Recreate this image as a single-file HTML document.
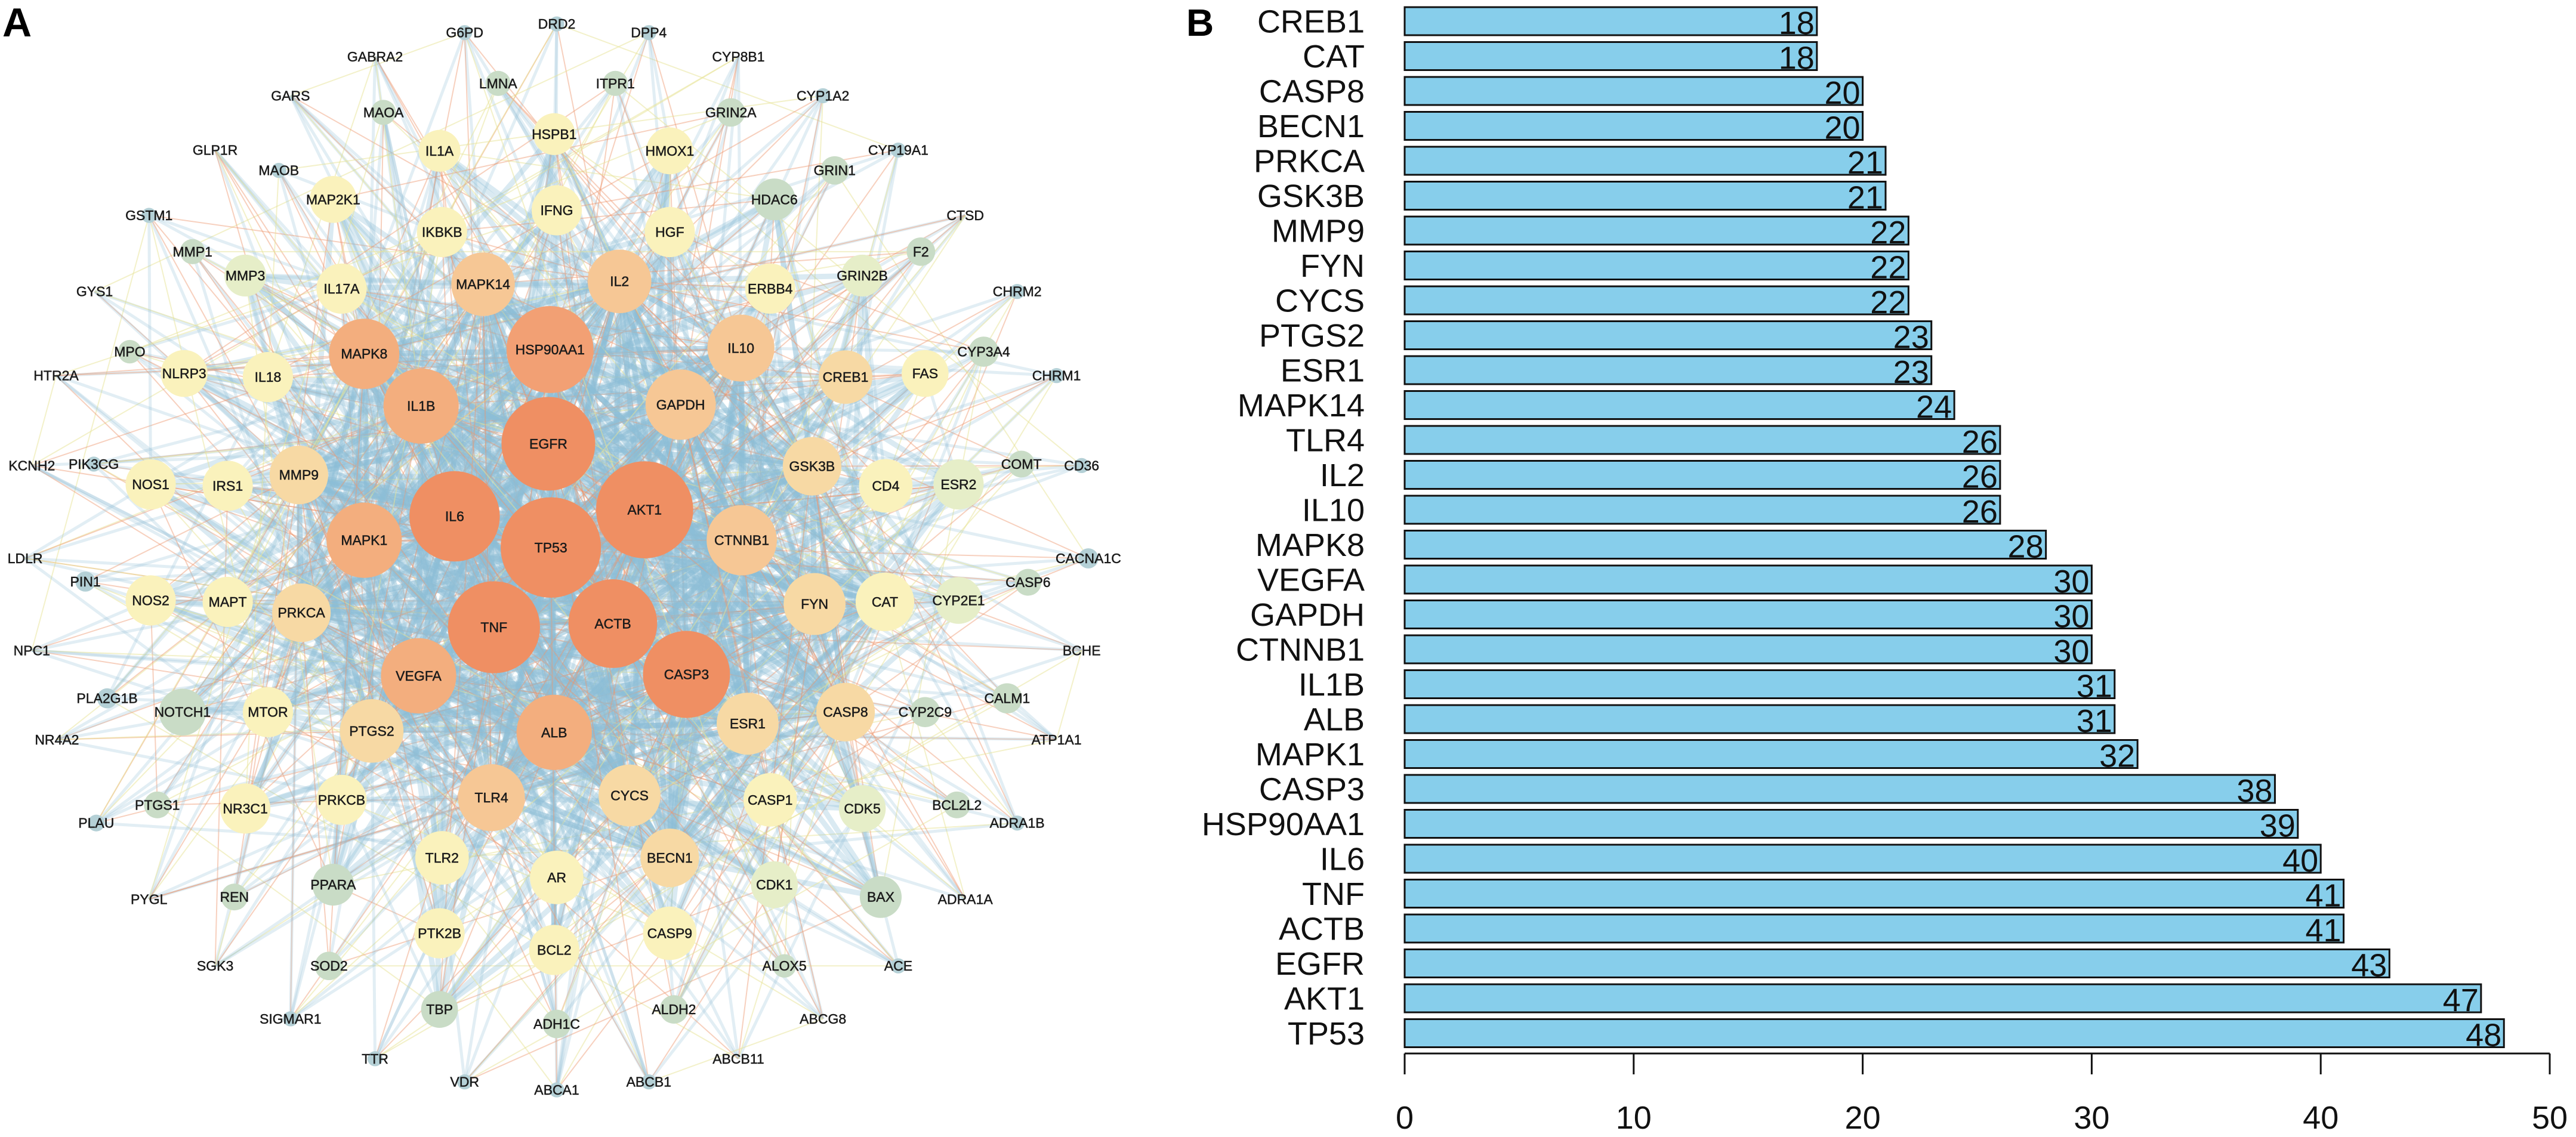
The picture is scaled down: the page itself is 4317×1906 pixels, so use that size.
<!DOCTYPE html>
<html><head><meta charset="utf-8"><title>Network and degree bar chart</title>
<style>
html,body{margin:0;padding:0;background:#fff;}
svg{display:block;font-family:"Liberation Sans",Arial,sans-serif;}
</style></head>
<body>
<svg id="fig" width="4317" height="1906" viewBox="0 0 4317 1906" xmlns="http://www.w3.org/2000/svg">
  <rect x="0" y="0" width="4317" height="1906" fill="#fff"/>
  <text x="4" y="61" font-size="68" font-weight="bold" fill="#000">A</text>
  <text x="1988" y="60" font-size="64" font-weight="bold" fill="#000">B</text>
  <g id="edges"></g>
  <g id="nodes"></g>
  <g id="bars"></g>
</svg>
<script>
// ---------- Bar chart data ----------
const categories = ["CREB1","CAT","CASP8","BECN1","PRKCA","GSK3B","MMP9","FYN","CYCS","PTGS2","ESR1","MAPK14","TLR4","IL2","IL10","MAPK8","VEGFA","GAPDH","CTNNB1","IL1B","ALB","MAPK1","CASP3","HSP90AA1","IL6","TNF","ACTB","EGFR","AKT1","TP53"];
const values = [18,18,20,20,21,21,22,22,22,23,23,24,26,26,26,28,30,30,30,31,31,32,38,39,40,41,41,43,47,48];
const tickValues = [0,10,20,30,40,50];
const tickLabels = ["0","10","20","30","40","50"];

// ---------- Network node data ----------
const nodeNames = ["G6PD","DRD2","DPP4","GABRA2","CYP8B1","GARS","MAOA","LMNA","ITPR1","GRIN2A","CYP1A2","GLP1R","MAOB","IL1A","HSPB1","HMOX1","CYP19A1","GRIN1","GSTM1","MAP2K1","IFNG","HDAC6","CTSD","IKBKB","HGF","MMP1","F2","GYS1","MMP3","IL17A","MAPK14","IL2","ERBB4","GRIN2B","CHRM2","MPO","HTR2A","NLRP3","IL18","MAPK8","HSP90AA1","IL10","CREB1","FAS","CYP3A4","CHRM1","IL1B","GAPDH","EGFR","KCNH2","PIK3CG","NOS1","IRS1","MMP9","GSK3B","CD4","ESR2","COMT","CD36","IL6","AKT1","TP53","MAPK1","CTNNB1","LDLR","CACNA1C","PIN1","NOS2","MAPT","PRKCA","FYN","CAT","CYP2E1","CASP6","TNF","ACTB","NPC1","BCHE","VEGFA","CASP3","PLA2G1B","NOTCH1","MTOR","CALM1","NR4A2","PTGS2","ALB","ESR1","CASP8","CYP2C9","ATP1A1","PTGS1","PLAU","NR3C1","PRKCB","TLR4","CYCS","CASP1","CDK5","BCL2L2","ADRA1B","TLR2","AR","BECN1","PYGL","REN","PPARA","CDK1","BAX","ADRA1A","PTK2B","BCL2","CASP9","SGK3","SOD2","ALOX5","ACE","TBP","ADH1C","ALDH2","SIGMAR1","ABCG8","TTR","ABCB11","VDR","ABCA1","ABCB1"];
const nodeX = [555,665,775,448,882,347,458,595,735,873,983,257,333,525,662,800,1073,997,178,398,665,925,1153,528,800,230,1100,113,293,408,577,740,920,1030,1215,155,67,220,320,435,657,885,1010,1105,1175,1262,503,813,655,38,112,180,272,357,970,1058,1145,1220,1292,543,770,658,435,886,30,1300,102,180,272,360,973,1057,1145,1228,590,732,38,1292,500,820,128,218,320,1203,68,444,662,893,1010,1105,1262,188,115,293,408,587,752,920,1030,1143,1215,528,665,800,178,280,398,925,1052,1153,525,662,800,257,393,937,1073,525,665,805,347,983,448,882,555,665,775];
const nodeY = [45,33,45,78,78,132,155,115,115,155,132,207,235,208,185,208,207,235,297,275,290,275,297,320,320,347,347,402,380,398,392,388,398,380,402,485,518,515,520,488,482,480,520,515,485,518,560,558,612,642,640,668,670,655,643,670,668,640,642,712,703,755,745,745,770,770,802,828,830,845,833,830,828,803,865,860,897,897,932,930,963,982,982,963,1020,1008,1010,998,982,982,1020,1110,1135,1115,1103,1100,1097,1103,1115,1110,1135,1183,1210,1183,1240,1237,1220,1220,1237,1240,1287,1310,1287,1332,1332,1332,1332,1392,1412,1392,1405,1405,1460,1460,1492,1503,1492];
const nodeR = [9,9,9,0,0,0,15,15,15,17,9,0,9,25,25,28,9,17,9,28,30,25,0,30,30,15,17,0,25,30,38,38,30,25,9,14,0,28,30,42,52,40,32,28,18,9,45,42,56,0,9,30,30,35,35,32,30,16,9,54,58,60,45,42,0,12,12,30,30,35,37,35,28,16,55,53,0,0,45,52,12,28,30,18,0,38,45,37,35,18,0,16,10,30,30,40,37,32,28,16,9,32,32,35,0,16,25,28,25,0,30,30,32,0,17,14,9,22,17,17,9,0,9,0,9,9,9];
const nodeCls = ["sm","sm","sm","sm","sm","sm","gr","gr","gr","gr","sm","sm","sm","ye","ye","ye","sm","gr","sm","ye","ye","gr","sm","ye","ye","gr","gr","sm","yg","ye","lo","lo","ye","yg","sm","gr","sm","ye","ye","or","hb","lo","yo","ye","gr","sm","or","lo","bg","sm","sm","ye","ye","yo","yo","ye","yg","gr","sm","bg","bg","bg","or","lo","sm","sm","sm","ye","ye","yo","yo","ye","yg","gr","bg","bg","sm","sm","or","bg","sm","gr","ye","gr","sm","yo","or","yo","yo","gr","sm","gr","sm","ye","ye","lo","yo","ye","yg","gr","sm","ye","ye","yo","sm","gr","gr","yg","gr","sm","ye","ye","ye","sm","gr","gr","sm","gr","gr","gr","sm","sm","sm","sm","sm","sm","sm"];

const NS = "http://www.w3.org/2000/svg";
const SX = 1.403, SY = 1.2156;
const colorMap = {bg:"#EF8F63",hb:"#F2A074",or:"#F3AE7E",lo:"#F6C795",yo:"#F7D9A4",ye:"#FAF2BC",yg:"#E6EEC8",gr:"#C9DCC6",sm:"#B4D0D6"};
function mk(tag, attrs){const e=document.createElementNS(NS,tag);for(const k in attrs)e.setAttribute(k,attrs[k]);return e;}

// ---------- Network ----------
const edgesG = document.getElementById("edges");
const nodesG = document.getElementById("nodes");
const N = nodeNames.length;
const px = i => nodeX[i]*SX, py = i => nodeY[i]*SY;
const hubs = [];
for (let i=0;i<N;i++) if (nodeR[i]>=35) hubs.push(i);
function addEdge(a,b,kind){
  const stroke = kind==="blue" ? "rgba(140,190,216,0.32)" : kind==="lblue" ? "rgba(150,195,215,0.28)" : kind==="orange" ? "rgba(238,150,110,0.45)" : "rgba(232,228,150,0.5)";
  const w = kind==="blue" ? 9 : kind==="lblue" ? 5 : 2;
  const l = mk("line",{x1:px(a),y1:py(a),x2:px(b),y2:py(b),stroke:stroke,"stroke-width":w});
  
  
  edgesG.appendChild(l);
}
for (let i=0;i<N;i++){
  const outer = nodeR[i] < 20;
  const isHub = nodeR[i] >= 35;
  for (let k=0;k<hubs.length;k++){
    const h = hubs[k];
    if (h===i) continue;
    if (outer) {
      if ((i+k)%8===0) addEdge(i,h,"lblue");
      else if ((i*5+k)%13===0) addEdge(i,h,"orange");
    } else if (isHub) {
      if ((i+h)%2===0) addEdge(i,h,"blue");
      else if ((i+h)%5===0) addEdge(i,h,"orange");
    } else {
      if ((i*3+k)%4===0) addEdge(i,h,"blue");
      else if ((i*7+k)%9===0) addEdge(i,h,"orange");
    }
  }
  if (!outer) addEdge(i,(i*7+3)%N,"orange");
  addEdge(i,(i*11+5)%N,"yellow");
  if (!outer) addEdge(i,(i*5+17)%N,"lblue");
}
for (let i=0;i<N;i++){
  const g = mk("g",{});
  
  
  if (nodeR[i]>0){
    const c = mk("circle",{cx:px(i),cy:py(i),r:nodeR[i]*SX,fill:colorMap[nodeCls[i]]});
    
    
    g.appendChild(c);
  }
  const t = mk("text",{x:px(i),y:py(i)+8,"font-size":23,"text-anchor":"middle",fill:"#1b1b1b",stroke:"#1b1b1b","stroke-width":0.5});
  t.textContent = nodeNames[i];
  
  
  g.appendChild(t);
  nodesG.appendChild(g);
}

// ---------- Bar chart ----------
const barsG = document.getElementById("bars");
const X0 = 2354, X50 = 4273;
const xScale = v => X0 + (X50-X0)*v/50;
const TOP = 12, PITCH = 58.5, BH = 47;
const yScale = i => TOP + i*PITCH;
for (let i=0;i<categories.length;i++){
  const y = yScale(i);
  const r = mk("rect",{x:xScale(0),y:y,width:xScale(values[i])-xScale(0),height:BH,fill:"#87CEEB",stroke:"#111","stroke-width":3});
  
  
  barsG.appendChild(r);
  const v = mk("text",{x:xScale(values[i])-4,y:y+BH-2,"font-size":54,"text-anchor":"end",fill:"#111"});
  v.textContent = values[i];
  
  
  barsG.appendChild(v);
  const c = mk("text",{x:2287,y:y+BH/2+19,"font-size":54,"text-anchor":"end",fill:"#111"});
  c.textContent = categories[i];
  
  
  barsG.appendChild(c);
}
const axis = mk("line",{x1:xScale(0),y1:1766,x2:xScale(50),y2:1766,stroke:"#111","stroke-width":3});


barsG.appendChild(axis);
for (let k=0;k<tickValues.length;k++){
  const x = xScale(tickValues[k]);
  const tk = mk("line",{x1:x,y1:1766,x2:x,y2:1801,stroke:"#111","stroke-width":3});
  
  
  barsG.appendChild(tk);
  const tl = mk("text",{x:x,y:1892,"font-size":54,"text-anchor":"middle",fill:"#111"});
  tl.textContent = tickLabels[k];
  
  
  barsG.appendChild(tl);
}
</script>
</body></html>
